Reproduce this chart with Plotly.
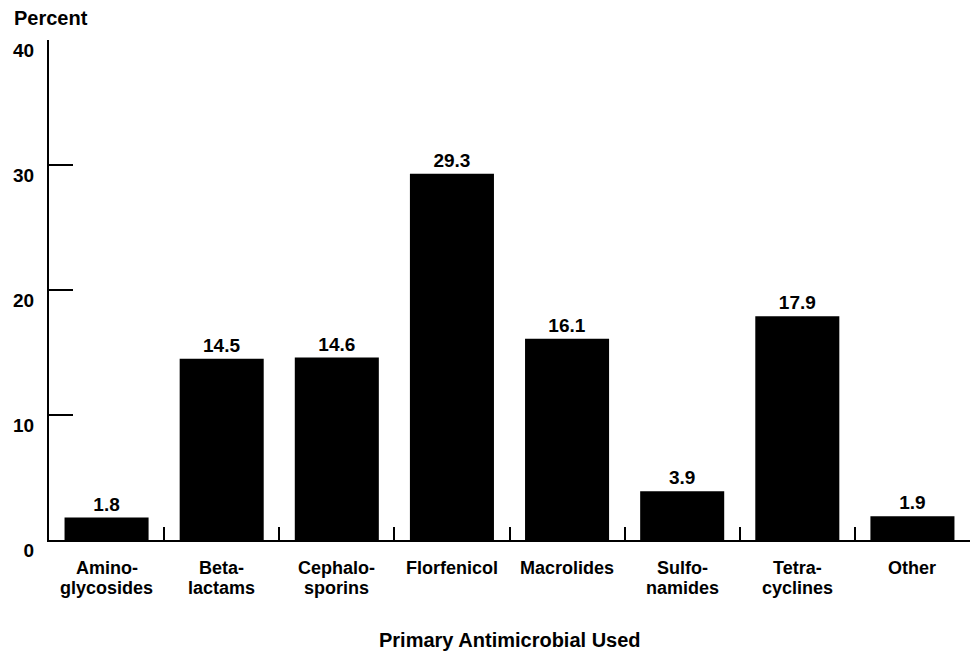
import plotly.graph_objects as go

categories = ["Aminoglycosides", "Betalactams", "Cephalosporins", "Florfenicol",
              "Macrolides", "Sulfonamides", "Tetracyclines", "Other"]
label_line1 = ["Amino-", "Beta-", "Cephalo-", "Florfenicol", "Macrolides", "Sulfo-", "Tetra-", "Other"]
label_line2 = ["glycosides", "lactams", "sporins", "", "", "namides", "cyclines", ""]
percent = [1.8, 14.5, 14.6, 29.3, 16.1, 3.9, 17.9, 1.9]
y_ticks = [0, 10, 20, 30, 40]

FONT = "Liberation Sans, Arial, sans-serif"

fig = go.Figure(
    go.Bar(
        x=categories,
        y=percent,
        width=0.73,
        marker=dict(color="black", line=dict(width=0)),
        text=[f"{v:.1f}" for v in percent],
        texttemplate="<b>%{text}</b>",
        textposition="outside",
        cliponaxis=False,
        textfont=dict(family=FONT, size=19, color="black"),
    )
)

# page body has an 8px margin, so the figure is a bit smaller than the window
fig.update_layout(
    width=970,
    height=647,
    margin=dict(l=41, r=8, t=32, b=115),
    paper_bgcolor="white",
    plot_bgcolor="white",
    showlegend=False,
    font=dict(family=FONT, size=18, color="black"),
)

fig.update_xaxes(
    type="category",
    automargin=False,
    showline=True,
    linecolor="black",
    linewidth=2,
    ticks="inside",
    tickson="boundaries",
    ticklen=13,
    tickwidth=2,
    tickcolor="black",
    showgrid=False,
    showticklabels=False,
)

fig.update_yaxes(
    range=[0, 40],
    automargin=False,
    tickvals=y_ticks,
    ticktext=[f"<b>{t}</b>" for t in y_ticks],
    showline=True,
    linecolor="black",
    linewidth=2,
    ticks="inside",
    ticklen=24,
    tickwidth=2,
    tickcolor="black",
    showgrid=False,
    zeroline=False,
    ticklabelshift=10,
    ticklabelstandoff=9,
    tickfont=dict(family=FONT, size=19, color="black"),
)

# category labels, two lines each (tight line spacing as in the original)
for cat, l1, l2 in zip(categories, label_line1, label_line2):
    for txt, shift in ((l1, -28), (l2, -48)):
        if txt:
            fig.add_annotation(
                text=f"<b>{txt}</b>", x=cat, xref="x", y=0, yref="paper", yshift=shift,
                xanchor="center", yanchor="middle", showarrow=False,
                font=dict(family=FONT, size=18, color="black"),
            )

fig.add_annotation(
    text="<b>Primary Antimicrobial Used</b>", xref="paper", yref="paper", x=0.5, y=0, yshift=-100,
    xanchor="center", yanchor="middle", showarrow=False,
    font=dict(family=FONT, size=20, color="black"),
)

fig.add_annotation(
    text="<b>Percent</b>", xref="paper", yref="paper", x=0, xshift=-37, y=1.0, yshift=22,
    xanchor="left", yanchor="middle", showarrow=False,
    font=dict(family=FONT, size=20, color="black"),
)

fig.write_html("out.html")
